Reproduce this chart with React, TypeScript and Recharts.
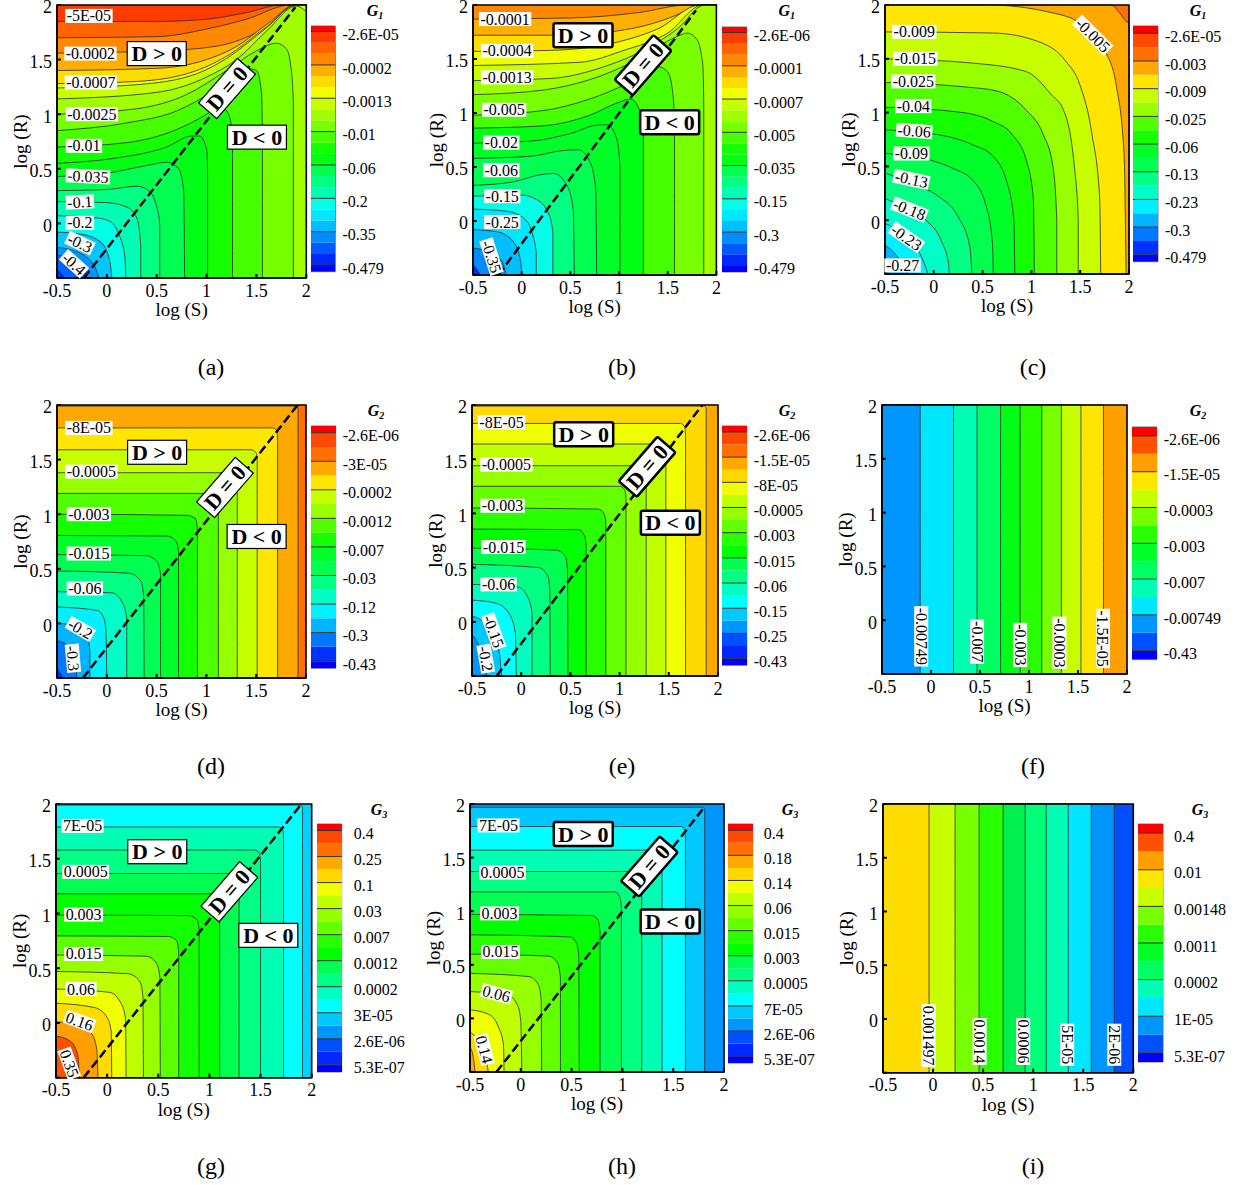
import React from 'react';
import { ComposedChart, BarChart, Area, Bar, Line, XAxis, YAxis, ReferenceDot, ReferenceArea, ReferenceLine } from 'recharts';

type Pt = [number, number];
type Lab = [string, number, number, number];

const axisTicks = [-0.5, 0, 0.5, 1, 1.5, 2];

// colour scales of the legends, top to bottom
const scale23 = ['#ff0000','#ff3c00','#ff6400','#ff8800','#ffaf00','#ffdc00','#f0ff00','#c8ff00','#a0ff00','#78ff00','#46ff00','#14ff00','#00ff14','#00ff50','#00ff82','#00ffb4','#00ffe6','#00e6ff','#00beff','#008cff','#005aff','#0028ff','#0000ff'];
const scale18 = ['#ff0000','#ff4800','#ff7000','#ffa800','#ffe600','#c8ff00','#96ff00','#50ff00','#14ff00','#00ff28','#00ff50','#00ff82','#00ffc8','#00f0ff','#00b4ff','#0078ff','#0032ff','#0000ff'];
const scale20 = ['#ff0000','#ff4800','#ff7000','#ffa800','#ffd800','#f0ff00','#c0ff00','#96ff00','#64ff00','#28ff00','#00ff00','#00ff50','#00ff82','#00ffc0','#00ffff','#00c8ff','#0096ff','#0050ff','#0028ff','#0000ff'];
const scale14 = ['#ff0000','#ff5000','#ffa000','#ffe600','#c8ff00','#78ff00','#28ff00','#00ff28','#00ff64','#00ffb4','#00e6ff','#0096ff','#0050ff','#0000ff'];

// ---- panel a
const aFills = ['#ff3c00','#ff6400','#ff8800','#ffaf00','#ffdc00','#f0ff00','#c8ff00','#a0ff00','#78ff00','#46ff00','#14ff00','#00ff14','#00ff50','#00ff82','#00ffb4','#00ffe6','#00c8ff','#0096ff','#0064ff','#0028ff'];
const aCurves: Pt[][] = [
  [[-0.5,2],[2,2]],
  [[-0.5,1.85],[0.5,1.85],[1,1.87],[1.4,1.93],[1.75,2],[2,2]],
  [[-0.5,1.7],[0.5,1.71],[1,1.78],[1.4,1.87],[1.84,2],[2,2]],
  [[-0.5,1.56],[0.5,1.58],[0.9,1.6],[1.27,1.66],[1.6,1.8],[1.88,2],[2,2]],
  [[-0.5,1.4],[0.5,1.42],[1,1.5],[1.3,1.62],[1.6,1.82],[1.9,2],[2,2]],
  [[-0.5,1.28],[0.3,1.3],[0.9,1.4],[1.2,1.53],[1.6,1.8],[1.9,2],[2,2]],
  [[-0.5,1.24],[0.3,1.27],[0.9,1.37],[1.2,1.51],[1.6,1.79],[1.9,2],[2,2]],
  [[-0.5,1.14],[0.5,1.2],[1,1.34],[1.3,1.5],[1.6,1.76],[1.9,1.99],[2,1.94]],
  [[-0.5,1],[0.3,1.05],[0.8,1.18],[1.2,1.4],[1.5,1.58],[1.7,1.65],[1.8,1.6],[1.85,1.4],[1.87,1.1],[1.87,-0.5]],
  [[-0.5,0.85],[0.2,0.92],[0.7,1.03],[1.1,1.23],[1.4,1.42],[1.5,1.4],[1.55,1.2],[1.56,0.8],[1.56,-0.5]],
  [[-0.5,0.7],[0.2,0.74],[0.7,0.86],[1,1],[1.13,1.08],[1.22,1],[1.26,0.8],[1.26,-0.5]],
  [[-0.5,0.55],[0.1,0.6],[0.6,0.7],[0.85,0.8],[0.93,0.8],[1,0.68],[1.01,0.5],[1.01,-0.5]],
  [[-0.5,0.43],[0,0.46],[0.4,0.53],[0.6,0.56],[0.72,0.5],[0.77,0.3],[0.78,-0.5]],
  [[-0.5,0.3],[0,0.31],[0.3,0.34],[0.42,0.3],[0.5,0.15],[0.53,0],[0.53,-0.5]],
  [[-0.5,0.2],[0,0.19],[0.2,0.15],[0.3,0.05],[0.34,-0.2],[0.34,-0.5]],
  [[-0.5,0.07],[-0.1,0.05],[0.03,0.02],[0.12,-0.1],[0.18,-0.3],[0.19,-0.5]],
  [[-0.5,-0.08],[-0.25,-0.1],[-0.05,-0.18],[0.03,-0.35],[0.05,-0.5]],
  [[-0.5,-0.22],[-0.3,-0.26],[-0.12,-0.4],[-0.08,-0.5]],
  [[-0.5,-0.29],[-0.35,-0.33],[-0.22,-0.45],[-0.2,-0.5]],
  [[-0.5,-0.42],[-0.42,-0.5]],
];
const aLabels: Lab[] = [['-5E-05',-0.18,1.9,0],['-0.0002',-0.165,1.555,0],['-0.0007',-0.16,1.29,0],['-0.0025',-0.15,1,0],['-0.01',-0.23,0.71,0],['-0.035',-0.19,0.43,3],['-0.1',-0.27,0.195,-3],['-0.2',-0.27,0.005,0],['-0.3',-0.27,-0.18,25],['-0.4',-0.33,-0.37,42]];
const aBarLabels = ['-2.6E-05','-0.0002','-0.0013','-0.01','-0.06','-0.2','-0.35','-0.479'];

// ---- panel b
const bFills = ['#ff8800','#ffaf00','#ffdc00','#f0ff00','#c8ff00','#a0ff00','#78ff00','#46ff00','#00ff14','#00ff28','#00ff50','#00ff82','#00ffe6','#00e6ff','#00beff','#008cff','#0028ff'];
const bCurves: Pt[][] = [
  [[-0.5,2],[2,2]],
  [[-0.5,1.87],[0.5,1.88],[1.2,1.93],[1.7,2],[2,2]],
  [[-0.5,1.72],[0.4,1.72],[0.9,1.75],[1.35,1.83],[1.76,1.98],[1.8,2],[2,2]],
  [[-0.5,1.57],[0.3,1.58],[1,1.66],[1.4,1.78],[1.83,2],[2,2]],
  [[-0.5,1.44],[0.6,1.47],[1.05,1.58],[1.5,1.74],[1.86,2],[2,2]],
  [[-0.5,1.3],[0.3,1.32],[0.85,1.43],[1.25,1.58],[1.6,1.78],[1.88,2],[2,2]],
  [[-0.5,1.17],[0.2,1.21],[0.8,1.34],[1.2,1.5],[1.6,1.71],[1.7,1.74],[1.8,1.68],[1.86,1.45],[1.87,1.1],[1.87,-0.5]],
  [[-0.5,0.98],[0.2,1.02],[0.7,1.13],[1.1,1.28],[1.4,1.43],[1.5,1.38],[1.55,1.2],[1.57,0.9],[1.57,-0.5]],
  [[-0.5,0.86],[0.2,0.88],[0.7,0.98],[1,1.1],[1.12,1.13],[1.2,1.05],[1.25,0.8],[1.25,-0.5]],
  [[-0.5,0.72],[0.1,0.74],[0.5,0.81],[0.8,0.89],[0.88,0.89],[0.97,0.78],[1.01,0.5],[1.01,-0.5]],
  [[-0.5,0.58],[0.1,0.6],[0.4,0.65],[0.58,0.66],[0.7,0.55],[0.76,0.3],[0.77,-0.5]],
  [[-0.5,0.33],[-0.1,0.36],[0.2,0.43],[0.33,0.44],[0.47,0.32],[0.53,0.1],[0.54,-0.5]],
  [[-0.5,0.23],[0,0.24],[0.15,0.2],[0.27,0.08],[0.32,-0.1],[0.32,-0.5]],
  [[-0.5,0.11],[-0.15,0.09],[0.03,0.02],[0.12,-0.15],[0.15,-0.3],[0.15,-0.5]],
  [[-0.5,-0.08],[-0.25,-0.1],[-0.08,-0.2],[-0.01,-0.38],[0,-0.5]],
  [[-0.5,-0.25],[-0.3,-0.3],[-0.2,-0.38],[-0.16,-0.5]],
  [[-0.5,-0.4],[-0.42,-0.5]],
];
const bLabels: Lab[] = [['-0.0001',-0.17,1.87,0],['-0.0004',-0.15,1.575,0],['-0.0013',-0.15,1.33,0],['-0.005',-0.18,1.03,0],['-0.02',-0.21,0.725,0],['-0.06',-0.21,0.47,0],['-0.15',-0.2,0.23,0],['-0.25',-0.2,-0.01,0],['-0.35',-0.31,-0.33,72]];
const bBarLabels = ['-2.6E-06','-0.0001','-0.0007','-0.005','-0.035','-0.15','-0.3','-0.479'];

// ---- panel c
const cFills = ['#ff7000','#ffa800','#ffe600','#c8ff00','#96ff00','#50ff00','#14ff00','#00ff28','#00ff50','#00ff82','#00ffc8','#00f0ff','#00b4ff','#0078ff'];
const cCurves: Pt[][] = [
  [[-0.5,2],[2,2]],
  [[-0.5,2],[1.82,2],[1.9,1.93],[1.99,1.84],[2,1.84],[2,-0.5]],
  [[-0.5,2],[0.55,2],[1.2,1.93],[1.5,1.83],[1.75,1.58],[1.87,1.25],[1.95,0.6],[1.97,-0.5]],
  [[-0.5,1.75],[0.6,1.74],[1.1,1.65],[1.35,1.48],[1.5,1.25],[1.62,0.8],[1.7,0.2],[1.71,-0.5]],
  [[-0.5,1.5],[0.4,1.46],[0.95,1.38],[1.2,1.17],[1.33,1.02],[1.44,0.5],[1.48,0],[1.48,-0.5]],
  [[-0.5,1.28],[0.3,1.24],[0.65,1.2],[0.95,1.02],[1.12,0.8],[1.22,0.5],[1.26,0],[1.26,-0.5]],
  [[-0.5,1.05],[0.3,1],[0.6,0.92],[0.8,0.8],[0.95,0.55],[1.02,0.2],[1.03,-0.5]],
  [[-0.5,0.84],[0.13,0.78],[0.4,0.7],[0.6,0.6],[0.75,0.35],[0.82,0],[0.83,-0.5]],
  [[-0.5,0.62],[-0.04,0.56],[0.2,0.48],[0.4,0.37],[0.53,0.15],[0.6,-0.2],[0.61,-0.5]],
  [[-0.5,0.44],[-0.2,0.33],[0.05,0.22],[0.25,0.03],[0.37,-0.25],[0.39,-0.5]],
  [[-0.5,0.2],[-0.25,0.1],[-0.08,0],[0.08,-0.2],[0.15,-0.4],[0.16,-0.5]],
  [[-0.5,-0.03],[-0.32,-0.12],[-0.18,-0.25],[-0.09,-0.42],[-0.06,-0.5]],
  [[-0.5,-0.23],[-0.38,-0.33],[-0.28,-0.47],[-0.26,-0.5]],
  [[-0.5,-0.48],[-0.44,-0.5]],
];
const cLabels: Lab[] = [['-0.009',-0.2,1.75,0],['-0.015',-0.19,1.5,0],['-0.025',-0.21,1.29,0],['-0.04',-0.21,1.06,0],['-0.06',-0.2,0.83,4],['-0.09',-0.23,0.62,0],['-0.13',-0.23,0.38,12],['-0.18',-0.25,0.1,22],['-0.23',-0.28,-0.16,35],['-0.27',-0.32,-0.42,0],['-0.005',1.63,1.72,45]];
const cBarLabels = ['-2.6E-05','-0.003','-0.009','-0.025','-0.06','-0.13','-0.23','-0.3','-0.479'];

// ---- panel d
const dFills = ['#ff7000','#ffa800','#ffe600','#c8ff00','#96ff00','#50ff00','#14ff00','#00ff28','#00ff50','#00ff82','#00ffc8','#00f0ff','#00b4ff','#0078ff','#0032ff'];
const dCurves: Pt[][] = [
  [[-0.5,2],[2,2]],
  [[-0.5,1.99],[1.9,1.99],[1.92,1.97],[1.92,-0.5]],
  [[-0.5,1.79],[1.67,1.79],[1.71,1.76],[1.715,1.68],[1.715,-0.5]],
  [[-0.5,1.59],[1.45,1.59],[1.5,1.56],[1.51,1.48],[1.51,-0.5]],
  [[-0.5,1.38],[1.25,1.38],[1.3,1.35],[1.31,1.28],[1.31,-0.5]],
  [[-0.5,1.19],[1.05,1.19],[1.11,1.16],[1.12,1.08],[1.12,-0.5]],
  [[-0.5,1],[0.8,0.99],[0.89,0.96],[0.91,0.86],[0.91,-0.5]],
  [[-0.5,0.805],[0.6,0.8],[0.69,0.76],[0.72,0.66],[0.72,-0.5]],
  [[-0.5,0.63],[0.4,0.62],[0.5,0.57],[0.54,0.45],[0.54,-0.5]],
  [[-0.5,0.48],[0.22,0.46],[0.34,0.39],[0.37,0.25],[0.375,-0.5]],
  [[-0.5,0.29],[0.05,0.28],[0.15,0.2],[0.2,0.05],[0.2,-0.5]],
  [[-0.5,0.15],[-0.1,0.12],[-0.03,0.05],[-0.01,-0.05],[0,-0.5]],
  [[-0.5,0],[-0.3,-0.02],[-0.2,-0.1],[-0.17,-0.25],[-0.17,-0.5]],
  [[-0.5,-0.16],[-0.4,-0.2],[-0.32,-0.32],[-0.3,-0.5]],
  [[-0.5,-0.41],[-0.44,-0.5]],
];
const dLabels: Lab[] = [['-8E-05',-0.18,1.79,0],['-0.0005',-0.155,1.39,0],['-0.003',-0.18,1,0],['-0.015',-0.18,0.64,0],['-0.06',-0.22,0.32,0],['-0.2',-0.265,-0.05,30],['-0.3',-0.34,-0.32,85]];
const dBarLabels = ['-2.6E-06','-3E-05','-0.0002','-0.0012','-0.007','-0.03','-0.12','-0.3','-0.43'];

// ---- panel e
const eFills = ['#ffa800','#ffd800','#f0ff00','#c0ff00','#96ff00','#64ff00','#28ff00','#00ff00','#00ff50','#00ff82','#00ffc0','#00ffff','#00c8ff','#0096ff','#0050ff'];
const eCurves: Pt[][] = [
  [[-0.5,2],[2,2]],
  [[-0.5,1.99],[1.86,1.99],[1.88,1.97],[1.88,-0.5]],
  [[-0.5,1.83],[1.62,1.83],[1.66,1.8],[1.67,1.72],[1.67,-0.5]],
  [[-0.5,1.64],[1.42,1.64],[1.46,1.61],[1.47,1.54],[1.47,-0.5]],
  [[-0.5,1.44],[1.22,1.44],[1.26,1.41],[1.27,1.34],[1.27,-0.5]],
  [[-0.5,1.25],[1,1.25],[1.05,1.22],[1.065,1.14],[1.065,-0.5]],
  [[-0.5,1.05],[0.78,1.04],[0.84,1],[0.86,0.92],[0.86,-0.5]],
  [[-0.5,0.855],[0.58,0.85],[0.64,0.8],[0.66,0.7],[0.66,-0.5]],
  [[-0.5,0.68],[0.36,0.66],[0.45,0.6],[0.47,0.48],[0.475,-0.5]],
  [[-0.5,0.53],[0.18,0.5],[0.27,0.42],[0.29,0.3],[0.295,-0.5]],
  [[-0.5,0.345],[-0.03,0.32],[0.07,0.22],[0.11,0.08],[0.11,-0.5]],
  [[-0.5,0.2],[-0.25,0.17],[-0.12,0.07],[-0.06,-0.1],[-0.05,-0.5]],
  [[-0.5,0.05],[-0.38,0],[-0.28,-0.12],[-0.22,-0.3],[-0.2,-0.5]],
  [[-0.5,-0.12],[-0.44,-0.2],[-0.38,-0.35],[-0.35,-0.5]],
];
const eLabels: Lab[] = [['-8E-05',-0.2,1.84,0],['-0.0005',-0.15,1.45,0],['-0.003',-0.19,1.07,0],['-0.015',-0.18,0.69,0],['-0.06',-0.23,0.345,0],['-0.15',-0.28,-0.09,70],['-0.2',-0.36,-0.34,80]];
const eBarLabels = ['-2.6E-06','-1.5E-05','-8E-05','-0.0005','-0.003','-0.015','-0.06','-0.15','-0.25','-0.43'];

// ---- panel f
const fFills = ['#ffa000','#ffe600','#c8ff00','#78ff00','#28ff00','#00ff14','#00ff64','#00ffb4','#00e6ff','#0096ff'];
const fBounds = [2, 1.76, 1.53, 1.33, 1.13, 0.91, 0.71, 0.47, 0.23, -0.11];
const fLabels: Lab[] = [['-0.00749',-0.1,-0.15,90],['-0.007',0.47,-0.2,90],['-0.003',0.91,-0.23,90],['-0.0003',1.31,-0.21,90],['-1.5E-05',1.755,-0.17,90]];
const fBarLabels = ['-2.6E-06','-1.5E-05','-0.0003','-0.003','-0.007','-0.00749','-0.43'];

// ---- panel g
const gFills = ['#00d2ff','#00ffff','#00ffb4','#00ff82','#00ff50','#00ff00','#14ff00','#5aff00','#96ff00','#c0ff00','#f0ff00','#ffdc00','#ffa000','#ff5000'];
const gCurves: Pt[][] = [
  [[-0.5,2],[2,2]],
  [[-0.5,1.99],[1.89,1.99],[1.91,1.97],[1.91,-0.5]],
  [[-0.5,1.79],[1.68,1.79],[1.72,1.76],[1.725,1.68],[1.725,-0.5]],
  [[-0.5,1.58],[1.44,1.58],[1.49,1.55],[1.5,1.47],[1.5,-0.5]],
  [[-0.5,1.365],[1.24,1.365],[1.28,1.33],[1.29,1.26],[1.29,-0.5]],
  [[-0.5,1.18],[1.03,1.18],[1.09,1.14],[1.1,1.06],[1.1,-0.5]],
  [[-0.5,0.985],[0.8,0.98],[0.88,0.94],[0.9,0.84],[0.9,-0.5]],
  [[-0.5,0.795],[0.6,0.79],[0.68,0.75],[0.7,0.64],[0.7,-0.5]],
  [[-0.5,0.62],[0.38,0.61],[0.48,0.55],[0.515,0.42],[0.52,-0.5]],
  [[-0.5,0.47],[0.2,0.45],[0.32,0.38],[0.35,0.24],[0.355,-0.5]],
  [[-0.5,0.31],[0.02,0.28],[0.13,0.19],[0.18,0.04],[0.185,-0.5]],
  [[-0.5,0.18],[-0.12,0.14],[0,0.05],[0.04,-0.08],[0.045,-0.5]],
  [[-0.5,0.01],[-0.28,-0.01],[-0.15,-0.1],[-0.1,-0.25],[-0.09,-0.5]],
  [[-0.5,-0.12],[-0.37,-0.16],[-0.29,-0.28],[-0.27,-0.5]],
];
const gLabels: Lab[] = [['7E-05',-0.24,1.8,0],['0.0005',-0.21,1.38,0],['0.003',-0.23,0.99,0],['0.015',-0.23,0.63,0],['0.06',-0.255,0.31,0],['0.16',-0.27,0.015,20],['0.35',-0.37,-0.37,70]];
const gBarLabels = ['0.4','0.25','0.1','0.03','0.007','0.0012','0.0002','3E-05','2.6E-06','5.3E-07'];

// ---- panel h
const hFills = ['#0096ff','#00c8ff','#00ffff','#00ffb4','#00ff82','#00ff50','#00ff00','#28ff00','#64ff00','#96ff00','#c0ff00','#f0ff00','#ffd800','#ffa800'];
const hCurves: Pt[][] = [
  [[-0.5,2],[2,2]],
  [[-0.5,1.97],[1.79,1.97],[1.81,1.95],[1.81,-0.5]],
  [[-0.5,1.79],[1.58,1.79],[1.61,1.76],[1.62,1.68],[1.62,-0.5]],
  [[-0.5,1.57],[1.35,1.57],[1.38,1.54],[1.39,1.46],[1.39,-0.5]],
  [[-0.5,1.37],[1.15,1.37],[1.18,1.34],[1.19,1.26],[1.19,-0.5]],
  [[-0.5,1.18],[0.93,1.18],[0.97,1.14],[0.99,1.04],[0.99,-0.5]],
  [[-0.5,0.97],[0.7,0.96],[0.76,0.92],[0.78,0.8],[0.78,-0.5]],
  [[-0.5,0.78],[0.48,0.76],[0.55,0.7],[0.57,0.58],[0.575,-0.5]],
  [[-0.5,0.6],[0.28,0.58],[0.36,0.52],[0.39,0.38],[0.39,-0.5]],
  [[-0.5,0.42],[0.08,0.39],[0.17,0.32],[0.2,0.18],[0.205,-0.5]],
  [[-0.5,0.25],[-0.13,0.22],[-0.03,0.12],[0,-0.03],[0.01,-0.5]],
  [[-0.5,0.08],[-0.32,0.04],[-0.22,-0.08],[-0.17,-0.25],[-0.165,-0.5]],
  [[-0.5,-0.13],[-0.42,-0.2],[-0.35,-0.33],[-0.32,-0.5]],
  [[-0.5,-0.27],[-0.47,-0.35],[-0.45,-0.5]],
];
const hLabels: Lab[] = [['7E-05',-0.22,1.8,0],['0.0005',-0.18,1.36,0],['0.003',-0.21,0.98,0],['0.015',-0.2,0.62,0],['0.06',-0.24,0.23,15],['0.14',-0.36,-0.29,75]];
const hBarLabels = ['0.4','0.18','0.14','0.06','0.015','0.003','0.0005','7E-05','2.6E-06','5.3E-07'];

// ---- panel i
const iFills = ['#0050ff','#0096ff','#00e6ff','#00ffb4','#00ff78','#00f050','#28ff00','#78ff00','#c8ff00','#ffdc00'];
const iBounds = [2, 1.81, 1.58, 1.35, 1.13, 0.92, 0.7, 0.46, 0.22, -0.04];
const iLabels: Lab[] = [['0.001497',-0.045,-0.155,90],['0.0014',0.465,-0.21,90],['0.0006',0.9,-0.21,90],['5E-05',1.34,-0.24,90],['2E-06',1.81,-0.24,90]];
const iBarLabels = ['0.4','0.01','0.00148','0.0011','0.0002','1E-05','5.3E-07'];

// ---- D labels: centre of the boxes in data units
const dSignTexts = ['D > 0', 'D = 0', 'D < 0'];
const aSigns: Pt[] = [[0.5,1.555],[1.205,1.235],[1.505,0.79]];
const bSigns: Pt[] = [[0.63,1.72],[1.247,1.443],[1.52,0.914]];
const dSigns: Pt[] = [[0.505,1.567],[1.186,1.244],[1.504,0.796]];
const eSigns: Pt[] = [[0.635,1.73],[1.28,1.43],[1.516,0.914]];
const gSigns: Pt[] = [[0.49,1.564],[1.195,1.198],[1.576,0.8]];
const hSigns: Pt[] = [[0.615,1.72],[1.265,1.416],[1.47,0.904]];

// ---- dashed D = 0 line ends
const aDash: Pt[] = [[-0.23,-0.5],[1.89,1.98]];
const bDash: Pt[] = [[-0.24,-0.5],[1.79,1.95]];
const dDash: Pt[] = [[-0.24,-0.5],[1.916,2]];
const eDash: Pt[] = [[-0.25,-0.5],[1.84,2]];
const gDash: Pt[] = [[-0.23,-0.5],[1.9,2]];
const hDash: Pt[] = [[-0.24,-0.5],[1.81,1.975]];

const FONT = '"Liberation Serif", serif';
const charW: Record<string, number> = { '-': 0.333, '.': 0.25, E: 0.611 };
const textW = (s: string, fs: number) => s.split('').reduce((t, c) => t + (charW[c] ?? 0.5), 0) * fs;

const toPts = (c: Pt[]) => c.map(([x, y]) => ({ x, y }));
const boundsToCurves = (b: number[]): Pt[][] => b.map((x) => [[-0.5, 2], [x, 2], [x, -0.5]] as Pt[]);

type BarCfg = { l: number; r: number; t: number; b: number; colors: string[]; per: number; topW: number; botW: number; labels: string[]; gap: number };

function ColorBar({ l, r, t, b, colors, per, topW, botW, labels, gap }: BarCfg) {
  const row: Record<string, number | string> = { name: 'scale' };
  const rev = [...colors].reverse();
  rev.forEach((_, i) => { row['s' + i] = i === 0 ? botW : i === rev.length - 1 ? topW : 1; });
  const total = rev.length - 2 + topW + botW;
  const ticks = labels.map((_, i) => botW + i * per);
  const byTick = new Map(ticks.map((v, i) => [v, labels[labels.length - 1 - i]]));
  const pad = 12;
  return (
    <div style={{ position: 'absolute', left: l, top: t - pad }}>
      <BarChart width={r - l + 90} height={b - t + 2 * pad} data={[row]} margin={{ top: pad, right: 0, bottom: pad, left: 0 }} barCategoryGap={0} barGap={0}>
        <XAxis dataKey="name" hide />
        <YAxis orientation="right" type="number" domain={[0, total]} ticks={ticks} width={90} interval={0} axisLine={false} tickLine={false} tickSize={0} tickMargin={gap}
          tickFormatter={(v: number) => byTick.get(v) ?? ''} tick={{ fill: '#000', fontSize: 16, fontFamily: FONT, dy: 3 }} allowDataOverflow />
        {rev.map((c, i) => <Bar key={i} dataKey={'s' + i} stackId="s" fill={c} isAnimationActive={false} />)}
        {ticks.map((v) => <ReferenceLine key={v} y={v} stroke="#333" strokeWidth={1} />)}
        <ReferenceArea y1={0} y2={total} fill="none" stroke="#777" strokeWidth={1} />
      </BarChart>
    </div>
  );
}

type PanelCfg = { l: number; r: number; t: number; b: number; curves: Pt[][]; fills: string[]; labels: Lab[]; signs?: Pt[]; dash?: Pt[]; heavy?: boolean };

function Panel({ l, r, t, b, curves, fills, labels, signs, dash, heavy }: PanelCfg) {
  const leftW = 56, topH = 12, rightW = 14, botH = 46;
  return (
    <div style={{ position: 'absolute', left: l - leftW, top: t - topH }}>
      <ComposedChart width={leftW + (r - l) + rightW} height={topH + (b - t) + botH} margin={{ top: topH, right: rightW, bottom: 0, left: 0 }}>
        <XAxis dataKey="x" type="number" domain={[-0.5, 2]} ticks={axisTicks} interval={0} height={botH} tickSize={-4} tickMargin={10}
          axisLine={{ stroke: '#000', strokeWidth: 1.5 }} tickLine={{ stroke: '#000', strokeWidth: 2 }} tick={{ fill: '#000', fontSize: 18, fontFamily: FONT }}
          label={{ value: 'log (S)', position: 'insideBottom', offset: 8, fill: '#000', fontSize: 19, fontFamily: FONT }} />
        <YAxis dataKey="y" type="number" domain={[-0.5, 2]} ticks={axisTicks} interval={0} width={leftW} tickSize={-4} tickMargin={9}
          tickFormatter={(v: number) => (v === -0.5 ? '' : String(v))}
          axisLine={{ stroke: '#000', strokeWidth: 1.5 }} tickLine={{ stroke: '#000', strokeWidth: 2 }} tick={{ fill: '#000', fontSize: 18, fontFamily: FONT, dy: 2 }}
          label={{ value: 'log (R)', angle: -90, position: 'insideLeft', offset: 19, fill: '#000', fontSize: 19, fontFamily: FONT, style: { textAnchor: 'middle' } }} />
        {curves.map((c, i) => (
          <Area key={i} data={toPts(c)} dataKey="y" type="monotoneX" baseValue={-0.5} fill={fills[i]} fillOpacity={1}
            stroke={i === 0 ? 'none' : '#2a2a2a'} strokeWidth={0.8} dot={false} activeDot={false} isAnimationActive={false} />
        ))}
        {dash && <Line data={toPts(dash)} dataKey="y" type="linear" stroke="#000" strokeWidth={2.5} strokeDasharray="9 4" dot={false} activeDot={false} isAnimationActive={false} />}
        {labels.map(([s, x, y, a]) => {
          const w = textW(s, 16) + 3;
          return (
            <ReferenceDot key={s + x} x={x} y={y} r={0} ifOverflow="visible" shape={(p: any) => (
              <g transform={`translate(${p.cx},${p.cy}) rotate(${a})`}>
                <rect x={-w / 2} y={-7} width={w} height={14} fill="#fff" />
                <text textAnchor="middle" y={5.5} fontSize={16} fontFamily={FONT} fill="#000">{s}</text>
              </g>
            )} />
          );
        })}
        {signs && signs.map(([x, y], i) => (
          <ReferenceDot key={i} x={x} y={y} r={0} ifOverflow="visible" shape={(p: any) => (
            <g transform={`translate(${p.cx},${p.cy}) rotate(${i === 1 ? -49 : 0})`}>
              <rect x={-29.5} y={-12} width={59} height={24} fill="#fff" stroke="#000" strokeWidth={heavy ? 2.5 : 1.2} rx={heavy ? 2 : 0} />
              <text textAnchor="middle" y={7.5} fontSize={22} fontWeight="bold" fontFamily={FONT} fill="#000" stroke="none">{dSignTexts[i]}</text>
            </g>
          )} />
        ))}
        <ReferenceArea x1={-0.5} x2={2} y1={-0.5} y2={2} fill="none" stroke="#000" strokeWidth={1.6} ifOverflow="visible" />
      </ComposedChart>
    </div>
  );
}

const plots: PanelCfg[] = [
  { l: 56.7, r: 306, t: 5, b: 278, curves: aCurves, fills: aFills, labels: aLabels, signs: aSigns, dash: aDash },
  { l: 473.3, r: 716.7, t: 5, b: 275, curves: bCurves, fills: bFills, labels: bLabels, signs: bSigns, dash: bDash, heavy: true },
  { l: 885, r: 1129, t: 5, b: 274, curves: cCurves, fills: cFills, labels: cLabels },
  { l: 57, r: 306, t: 405, b: 678, curves: dCurves, fills: dFills, labels: dLabels, signs: dSigns, dash: dDash },
  { l: 471.7, r: 717.7, t: 405, b: 676, curves: eCurves, fills: eFills, labels: eLabels, signs: eSigns, dash: eDash, heavy: true },
  { l: 882, r: 1127, t: 405, b: 674, curves: boundsToCurves(fBounds), fills: fFills, labels: fLabels },
  { l: 56, r: 311.7, t: 804, b: 1077.7, curves: gCurves, fills: gFills, labels: gLabels, signs: gSigns, dash: gDash },
  { l: 470, r: 724, t: 804, b: 1072, curves: hCurves, fills: hFills, labels: hLabels, signs: hSigns, dash: hDash, heavy: true },
  { l: 882.7, r: 1133, t: 804, b: 1072.7, curves: boundsToCurves(iBounds), fills: iFills, labels: iLabels },
];

const bars: BarCfg[] = [
  { l: 311.3, r: 335.7, t: 26, b: 271.7, colors: scale23, per: 3, topW: 0.5, botW: 0.6, labels: aBarLabels, gap: 7 },
  { l: 722.3, r: 747, t: 26.7, b: 271.7, colors: scale23, per: 3, topW: 0.5, botW: 0.6, labels: bBarLabels, gap: 7 },
  { l: 1133.3, r: 1158.3, t: 26, b: 261.7, colors: scale18, per: 2, topW: 0.53, botW: 0.5, labels: cBarLabels, gap: 7 },
  { l: 311.3, r: 336, t: 426, b: 668.3, colors: scale18, per: 2, topW: 0.47, botW: 0.5, labels: dBarLabels, gap: 7 },
  { l: 722.3, r: 747, t: 425.7, b: 665, colors: scale20, per: 2, topW: 0.47, botW: 0.53, labels: eBarLabels, gap: 7 },
  { l: 1132.3, r: 1157, t: 426.7, b: 659.3, colors: scale14, per: 2, topW: 0.5, botW: 0.5, labels: fBarLabels, gap: 7 },
  { l: 317, r: 341.7, t: 824.3, b: 1072.3, colors: scale20, per: 2, topW: 0.5, botW: 0.55, labels: gBarLabels, gap: 12 },
  { l: 728.3, r: 753, t: 824.3, b: 1063.3, colors: scale20, per: 2, topW: 0.5, botW: 0.55, labels: hBarLabels, gap: 11 },
  { l: 1138.3, r: 1163.3, t: 824.3, b: 1062.3, colors: scale14, per: 2, topW: 0.5, botW: 0.5, labels: iBarLabels, gap: 11 },
];

const titles: [number, number, string][] = [[375, 11, '1'], [786.7, 11, '1'], [1198, 11, '1'], [376, 411, '2'], [787, 411, '2'], [1198, 411, '2'], [379, 810, '3'], [790, 810, '3'], [1200, 810, '3']];
const captions: [number, number, string][] = [[211, 367, '(a)'], [622, 367, '(b)'], [1033, 367, '(c)'], [211, 766, '(d)'], [622, 766, '(e)'], [1033, 766, '(f)'], [211, 1166, '(g)'], [622, 1166, '(h)'], [1033, 1166, '(i)']];

export default function App() {
  return (
    <div style={{ position: 'absolute', left: 0, top: 0, width: 1238, height: 1185, background: '#fff', fontFamily: FONT, overflow: 'hidden' }}>
      {plots.map((p, i) => <Panel key={i} {...p} />)}
      {bars.map((b, i) => <ColorBar key={i} {...b} />)}
      {titles.map(([x, y, n], i) => (
        <div key={i} style={{ position: 'absolute', left: x - 20, top: y - 10, width: 40, textAlign: 'center', fontSize: 16, lineHeight: '20px', fontWeight: 'bold', fontStyle: 'italic' }}>
          G<span style={{ fontSize: 10, position: 'relative', top: 3 }}>{n}</span>
        </div>
      ))}
      {captions.map(([x, y, s], i) => (
        <div key={i} style={{ position: 'absolute', left: x - 30, top: y - 14, width: 60, textAlign: 'center', fontSize: 24, lineHeight: '28px' }}>{s}</div>
      ))}
    </div>
  );
}
